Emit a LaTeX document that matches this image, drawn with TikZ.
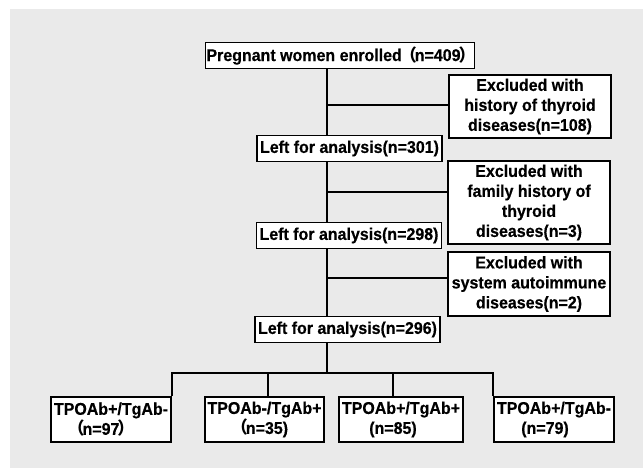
\documentclass[tikz,border=0pt]{standalone}
\usepackage{fontspec}
\setmainfont{Liberation Sans}[FakeStretch=0.94, BoldFeatures={FakeBold=0.4}]
\newfontfamily\cjk{Noto Sans CJK SC}
\usetikzlibrary{positioning}
\definecolor{panel}{HTML}{EAEAEA}
\newcommand{\lp}{\kern-2pt{\cjk （}\kern-2pt}
\newcommand{\rp}{\kern-2pt{\cjk ）}\kern-2pt}

\begin{document}
\begin{tikzpicture}[x=1pt,y=-1pt,
    box/.style={draw, line width=1.8pt, fill=white, inner sep=1pt, align=center,
        font=\fontsize{17}{20}\selectfont\bfseries},
    link/.style={line width=2.2pt}]
\fill[white] (0,0) rectangle (643,469);
\fill[panel] (10,9) rectangle (643,468);
\useasboundingbox (0,0) rectangle (643,469);

\node[box, minimum width=264, minimum height=26] (enrol) at (340,55.5) {Pregnant women enrolled\lp n=409\rp};
\node[box, minimum width=185, minimum height=26] (left1) at (349.5,148.5) {Left for analysis(n=301)};
\node[box, minimum width=185, minimum height=26] (left2) at (349,235.5) {Left for analysis(n=298)};
\node[box, minimum width=185, minimum height=26] (left3) at (347.5,329.5) {Left for analysis(n=296)};

\node[box, minimum width=162, minimum height=63] (excl1) at (530,106.5) {Excluded with\\history of thyroid\\diseases(n=108)};
\node[box, minimum width=162, minimum height=83] (excl2) at (529,202.5) {Excluded with\\family history of\\thyroid\\diseases(n=3)};
\node[box, minimum width=162, minimum height=64] (excl3) at (529,284) {Excluded with\\system autoimmune\\diseases(n=2)};

\node[box, minimum width=120, minimum height=45] (grp1) at (111,419.5) {TPOAb+/TgAb-\\\lp n=97\rp\hspace*{20pt}};
\node[box, minimum width=119, minimum height=45] (grp2) at (264.5,419.5) {TPOAb-/TgAb+\\\lp n=35)\hspace*{8pt}};
\node[box, minimum width=124, minimum height=45] (grp3) at (401,419.5) {TPOAb+/TgAb+\\(n=85)\hspace*{16pt}};
\node[box, minimum width=120, minimum height=45] (grp4) at (554,419.5) {TPOAb+/TgAb-\\(n=79)\hspace*{18pt}};

% spine and junctions
\coordinate (spine) at (327,0);
\coordinate (j1) at (327,105);
\coordinate (j2) at (327,192);
\coordinate (j3) at (327,278);
\coordinate (fork) at (327,373);

\draw[link] (enrol.south -| spine) -- (left1.north -| spine)
    (left1.south -| spine) -- (left2.north -| spine)
    (left2.south -| spine) -- (left3.north -| spine)
    (left3.south -| spine) -- (fork);
\draw[link] (j1) -- (j1 -| excl1.west)
    (j2) -- (j2 -| excl2.west)
    (j3) -- (j3 -| excl3.west);
\draw[link] (grp1.north east) |- (fork) -| (grp4.north west);
\draw[link] ([xshift=3.5pt]grp2.north) -- ([xshift=3.5pt]grp2.north |- fork);
\draw[link] ([xshift=-8pt]grp3.north) -- ([xshift=-8pt]grp3.north |- fork);
\end{tikzpicture}
\end{document}
